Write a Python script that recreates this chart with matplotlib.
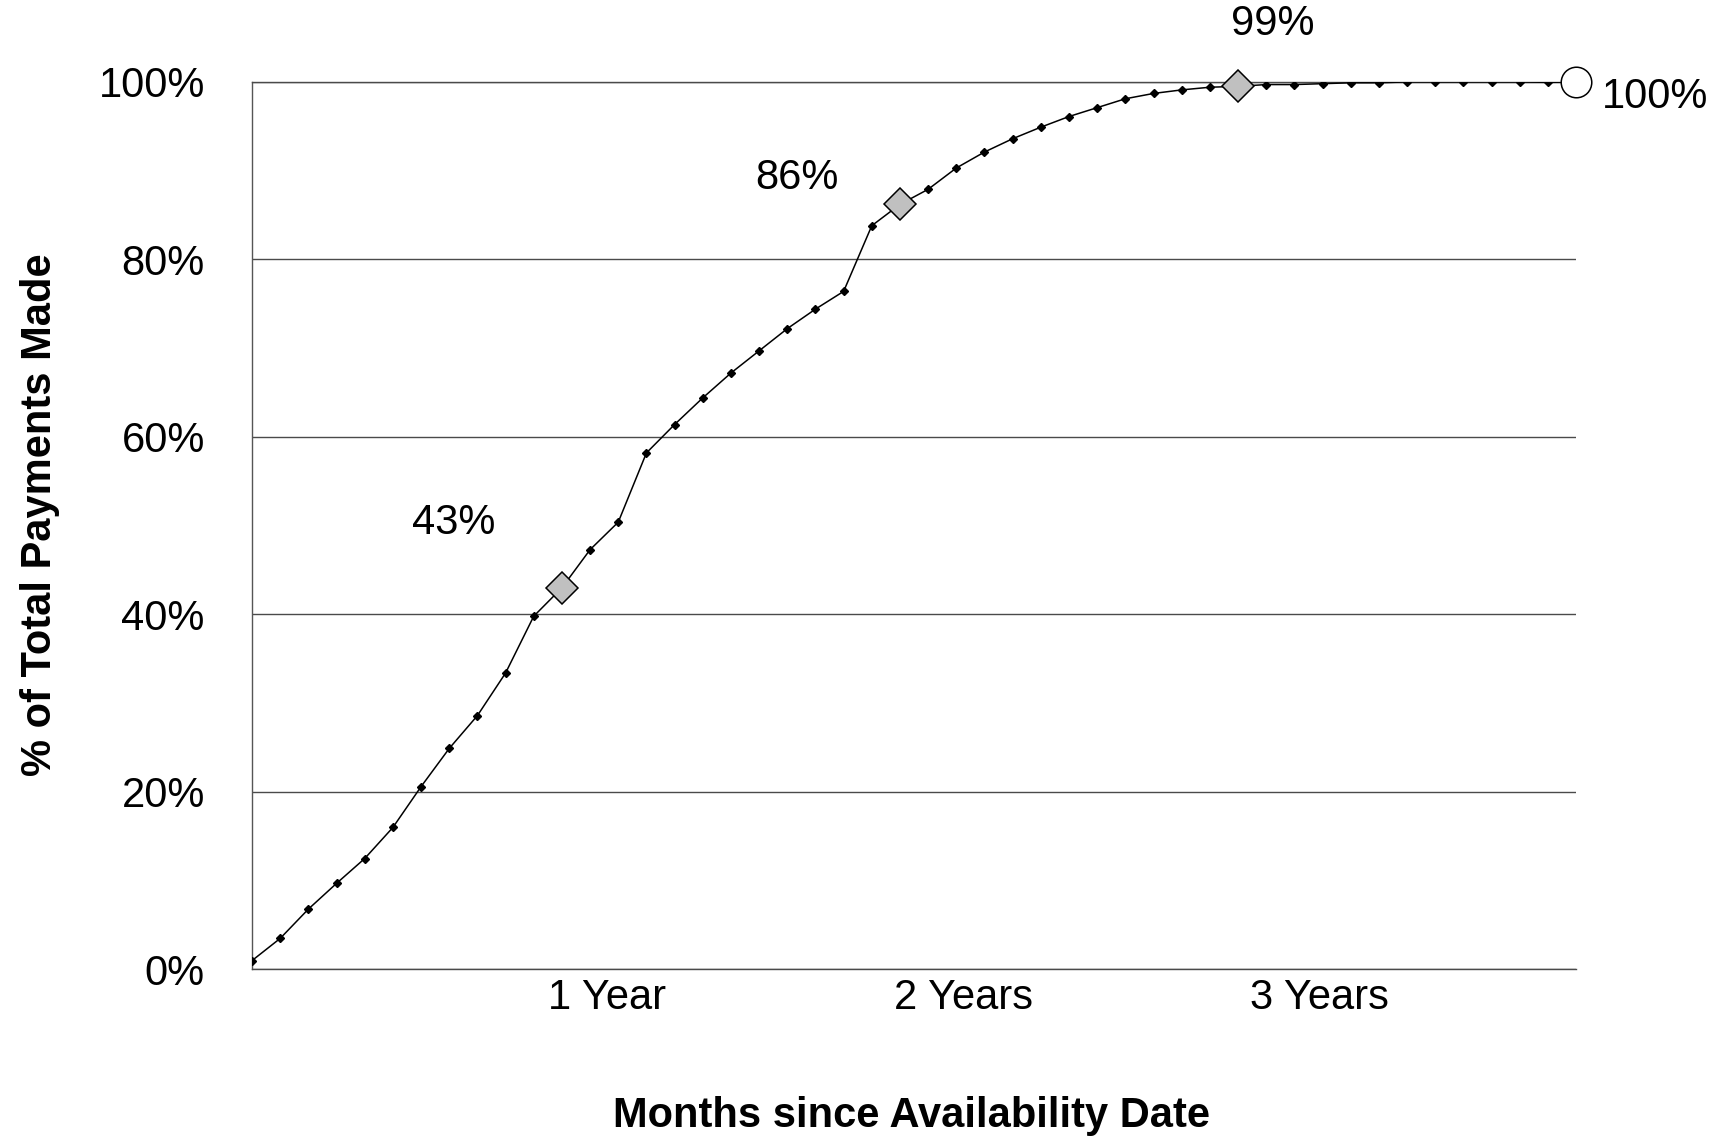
import matplotlib
matplotlib.use("Agg")
import matplotlib.pyplot as plt
from matplotlib.ticker import FuncFormatter

plt.rcParams['font.family'] = ['Liberation Sans', 'DejaVu Sans']

# ---- data ----
months = list(range(1, 49))
paid_pct = [1.0, 3.5, 6.8, 9.7, 12.5, 16.0, 20.6, 24.9, 28.6, 33.4, 39.8, 43.0,
            47.3, 50.4, 58.2, 61.4, 64.4, 67.2, 69.7, 72.2, 74.4, 76.4, 83.8, 86.2,
            87.9, 90.3, 92.1, 93.6, 94.9, 96.1, 97.1, 98.1, 98.7, 99.1, 99.4, 99.5,
            99.7, 99.7, 99.8, 99.9, 99.9, 100.0, 100.0, 100.0, 100.0, 100.0, 99.95, 100.0]
milestone_months = [12, 24, 36]
milestone_labels = ["43%", "86%", "99%"]
final_month = 48
final_label = "100%"
year_labels = ["1 Year", "2 Years", "3 Years"]
y_ticks = [0, 20, 40, 60, 80, 100]

fig = plt.figure(figsize=(17.18, 11.36), dpi=100)
ax = fig.add_axes([0.1467, 0.1466, 0.7707, 0.7813])

grid_col = '#4a4a4a'
ax.plot(months, paid_pct, color='black', lw=1.1, marker='D', ms=3.8,
        mfc='black', mec='black', zorder=3)

ms_y = [paid_pct[months.index(m)] for m in milestone_months]
ax.plot(milestone_months, ms_y, ls='none', marker='D', ms=16,
        mfc='#c0c0c0', mec='black', mew=1.1, zorder=4, clip_on=False)
fy = paid_pct[months.index(final_month)]
ax.plot([final_month], [fy], ls='none', marker='o', ms=22,
        mfc='white', mec='black', mew=1.1, zorder=4, clip_on=False)

offsets = [(-78, 47), (-74, 19), (25, 45)]
for m, y, lab, off in zip(milestone_months, ms_y, milestone_labels, offsets):
    ax.annotate(lab, (m, y), xytext=off, textcoords='offset points',
                ha='center', va='center', fontsize=30, annotation_clip=False)
ax.annotate(final_label, (final_month, fy), xytext=(57, -11), textcoords='offset points',
            ha='center', va='center', fontsize=30, annotation_clip=False)

ax.set_xlim(1, 48)
ax.set_ylim(0, 100)
ax.set_yticks(y_ticks)
ax.yaxis.set_major_formatter(FuncFormatter(lambda v, p: f"{int(v)}%"))
ax.set_xticks([13.6, 26.25, 38.9])
ax.set_xticklabels(year_labels)
ax.tick_params(axis='y', length=0, pad=34, labelsize=30)
ax.tick_params(axis='x', length=0, pad=6, labelsize=30)

ax.yaxis.grid(True, color=grid_col, lw=1.0)
ax.set_axisbelow(True)
ax.spines['right'].set_visible(False)
ax.spines['top'].set_color(grid_col)
ax.spines['top'].set_linewidth(1.0)
ax.spines['bottom'].set_color(grid_col)
ax.spines['bottom'].set_linewidth(1.0)
ax.spines['left'].set_color('#555555')
ax.spines['left'].set_linewidth(1.0)

fig.text(0.023, 0.5467, "% of Total Payments Made", rotation=90, ha='center',
         va='center', fontsize=30, fontweight='bold')
fig.text(0.5306, 0.018, "Months since Availability Date", ha='center',
         va='center', fontsize=30, fontweight='bold')

fig.savefig("out.png", dpi=100)
